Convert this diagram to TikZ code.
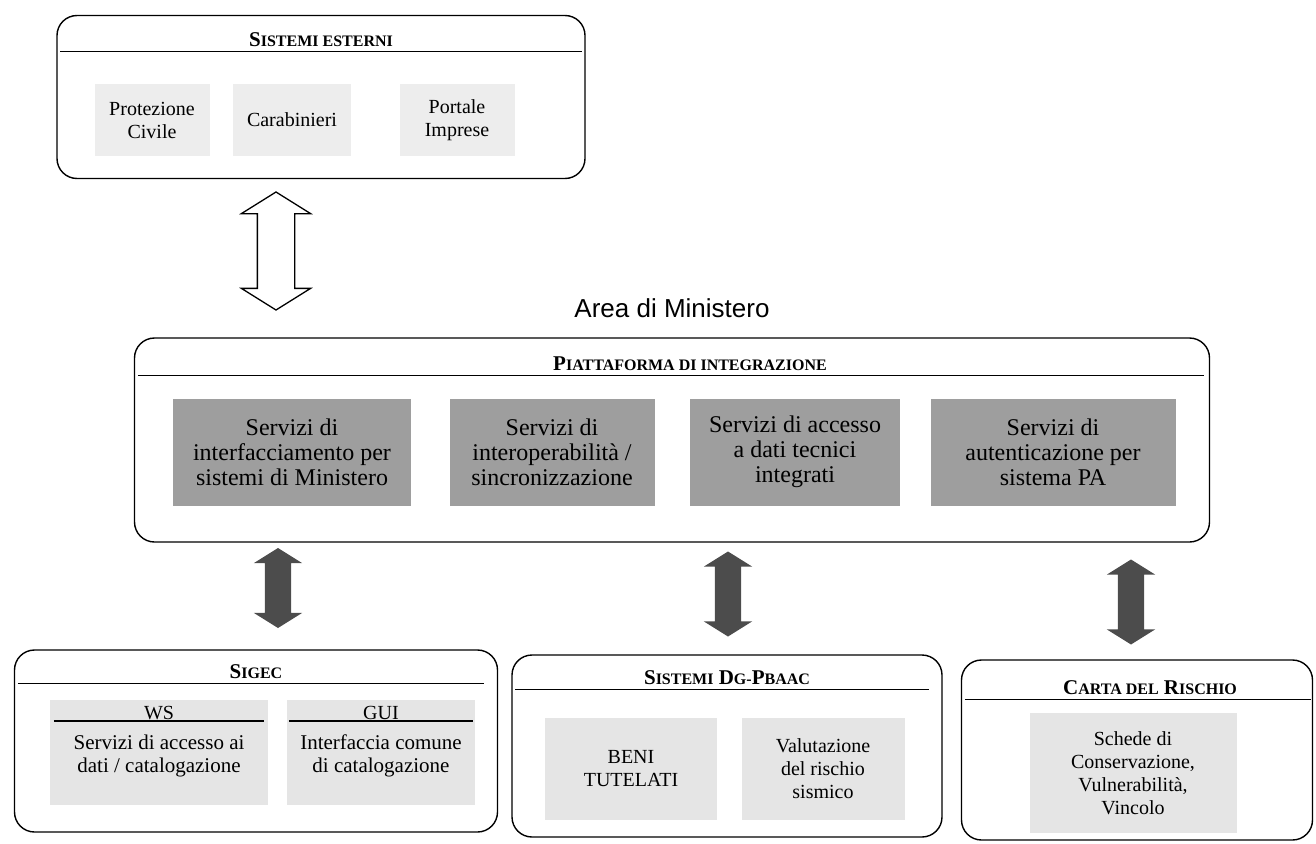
\documentclass[tikz,border=0pt]{standalone}
\usepackage{fontspec}
\setmainfont{Liberation Serif}
\newfontfamily\areafont{Liberation Sans}
\usetikzlibrary{shapes.arrows}
\newcommand\smc[1]{{\fontsize{16}{18}\selectfont #1}}
\begin{document}
\begin{tikzpicture}[x=1pt,y=-1pt,font=\fontsize{20}{23}\selectfont]
\tikzstyle{system}=[draw,line width=1.4pt,rounded corners=20pt,inner sep=0pt]
\tikzstyle{head}=[font=\fontsize{21}{24}\selectfont\bfseries,inner sep=4pt]
\tikzstyle{light}=[fill=black!10,align=center,inner sep=0pt]
\tikzstyle{dark}=[fill=black!38,align=center,inner sep=0pt,font=\fontsize{24}{25}\selectfont]
\tikzstyle{bar}=[line width=1.2pt]
\tikzstyle{link}=[double arrow,rotate=90,fill=black!70,inner sep=0pt,text height=26pt,text depth=0pt,double arrow head extend=11pt,double arrow tip angle=116]
\useasboundingbox (0,0) rectangle (1316,843);
\node[system,minimum width=528pt,minimum height=163pt] (ext) at (321,97) {};
\node[head] (exth) at (321,40) {S\smc{ISTEMI ESTERNI}};
\draw[bar] ([xshift=4pt]ext.west |- exth.south) -- ([xshift=-4pt]ext.east |- exth.south);
\node[light,fill=black!7,minimum width=115pt,minimum height=72pt] (prot) at (152,120) {Protezione\\Civile};
\node[light,fill=black!7,minimum width=118pt,minimum height=72pt] (cara) at (292,120) {Carabinieri};
\node[light,fill=black!7,minimum width=115pt,minimum height=72pt] (port) at (457,120) {Portale\\Imprese};
\node[double arrow,draw,line width=1.3pt,fill=white,rotate=90,inner sep=0pt,text height=36pt,text depth=0pt,minimum height=118pt,double arrow head extend=16pt,double arrow tip angle=116] (xa) at (276,251) {};
\node[font=\areafont\fontsize{26}{30}\selectfont] (area) at (672,308) {Area di Ministero};
\node[system,minimum width=1075pt,minimum height=204pt] (plat) at (672,440) {};
\node[head] (plath) at (690,364) {P\smc{IATTAFORMA DI INTEGRAZIONE}};
\draw[bar] ([xshift=4pt]plat.west |- plath.south) -- ([xshift=-6pt]plat.east |- plath.south);
\node[dark,minimum width=238pt,minimum height=107pt] (s1) at (292,452) {Servizi di\\interfacciamento per\\sistemi di Ministero};
\node[dark,minimum width=205pt,minimum height=107pt] (s2) at (552,452) {Servizi di\\interoperabilità /\\sincronizzazione};
\node[dark,minimum width=210pt,minimum height=107pt] (s3) at (795,452) {Servizi di accesso\\a dati tecnici\\integrati};
\node[dark,minimum width=245pt,minimum height=107pt] (s4) at (1053,452) {Servizi di\\autenticazione per\\sistema PA};
\node[link,minimum height=80pt] (a1) at (278,588) {};
\node[link,minimum height=85pt] (a2) at (728,594) {};
\node[link,minimum height=85pt] (a3) at (1131,602) {};
\node[system,minimum width=483pt,minimum height=182pt] (sig) at (256,741) {};
\node[head] (sigh) at (256,672) {S\smc{IGEC}};
\draw[bar] ([xshift=4pt]sig.west |- sigh.south) -- ([xshift=-14pt]sig.east |- sigh.south);
\node[light,minimum width=218pt,minimum height=105pt] (ws) at (159,752) {};
\node[inner sep=1pt] (wsh) at (159,713) {WS};
\draw[bar] ([xshift=4pt]ws.west |- wsh.south) -- ([xshift=-4pt]ws.east |- wsh.south);
\node[align=center,font=\fontsize{21}{23}\selectfont] (wsd) at (159,756) {Servizi di accesso ai\\dati / catalogazione};
\node[light,minimum width=188pt,minimum height=105pt] (gui) at (381,752) {};
\node[inner sep=1pt] (guih) at (381,713) {GUI};
\draw[bar] ([xshift=2pt]gui.west |- guih.south) -- ([xshift=-2pt]gui.east |- guih.south);
\node[align=center,font=\fontsize{21}{23}\selectfont] (guid) at (381,756) {Interfaccia comune\\di catalogazione};
\node[system,minimum width=430pt,minimum height=182pt] (dg) at (727,746) {};
\node[head] (dgh) at (727,678) {S\smc{ISTEMI} D\smc{G-}P\smc{BAAC}};
\draw[bar] ([xshift=4pt]dg.west |- dgh.south) -- ([xshift=-14pt]dg.east |- dgh.south);
\node[light,minimum width=172pt,minimum height=102pt] (beni) at (631,769) {BENI\\TUTELATI};
\node[light,minimum width=163pt,minimum height=102pt] (valu) at (823,769) {Valutazione\\del rischio\\sismico};
\node[system,minimum width=351pt,minimum height=180pt] (carta) at (1137,750) {};
\node[head] (cartah) at (1150,688) {C\smc{ARTA DEL} R\smc{ISCHIO}};
\draw[bar] ([xshift=4pt]carta.west |- cartah.south) -- ([xshift=-2pt]carta.east |- cartah.south);
\node[light,minimum width=207pt,minimum height=120pt] (sched) at (1133,773) {Schede di\\Conservazione,\\Vulnerabilità,\\Vincolo};
\end{tikzpicture}
\end{document}
